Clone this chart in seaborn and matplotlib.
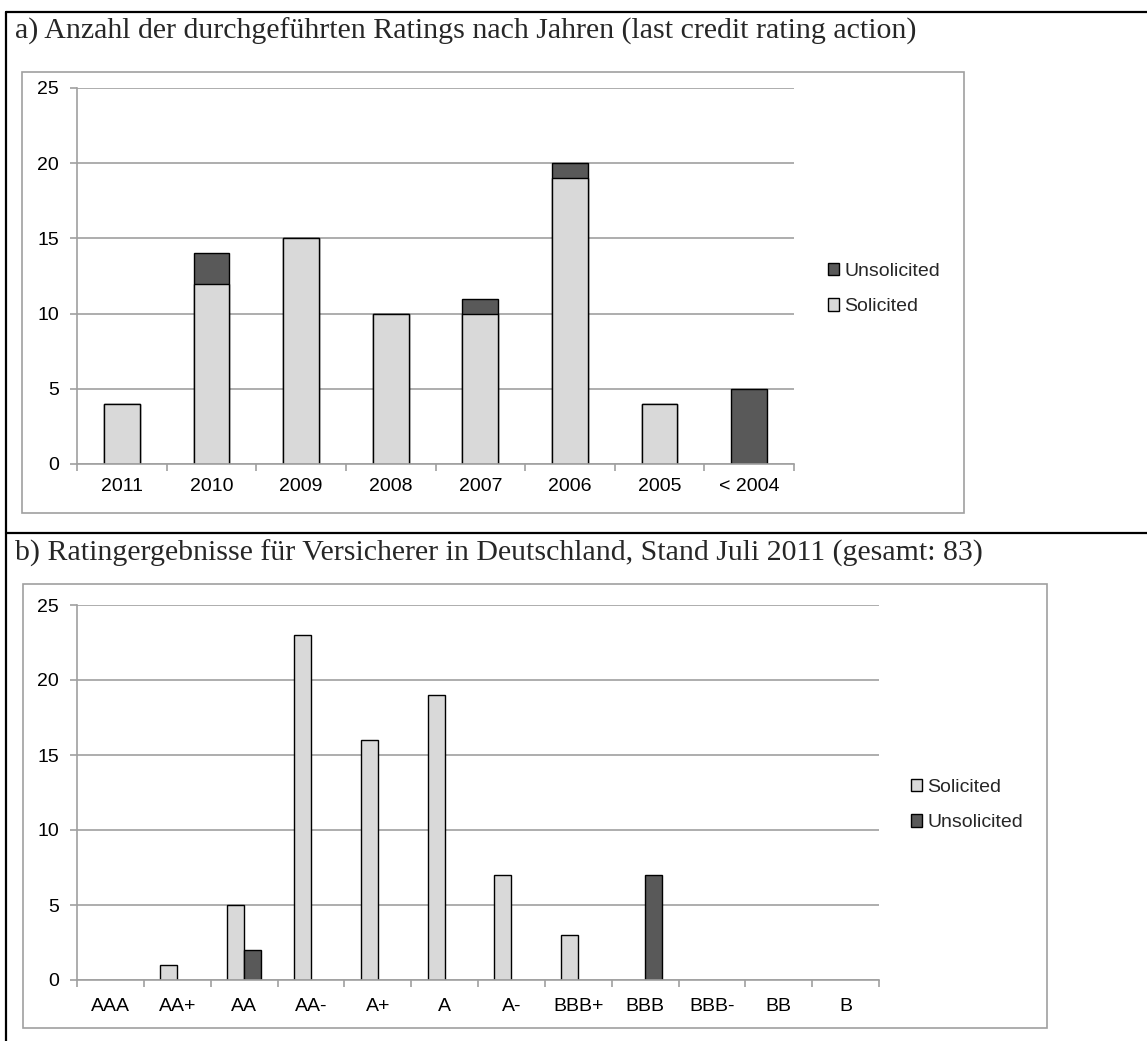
import matplotlib
matplotlib.use("Agg")
import matplotlib.pyplot as plt
import seaborn as sns
import pandas as pd
from matplotlib.patches import Patch, Rectangle
from matplotlib.lines import Line2D

# data
years = ['2011', '2010', '2009', '2008', '2007', '2006', '2005', '< 2004']
solicited_a = [4, 12, 15, 10, 10, 19, 4, 0]
unsolicited_a = [0, 2, 0, 0, 1, 1, 0, 5]

ratings = ['AAA', 'AA+', 'AA', 'AA-', 'A+', 'A', 'A-', 'BBB+', 'BBB', 'BBB-', 'BB', 'B']
solicited_b = [0, 1, 5, 23, 16, 19, 7, 3, 0, 0, 0, 0]
unsolicited_b = [0, 0, 2, 0, 0, 0, 0, 0, 7, 0, 0, 0]

title_a = 'a) Anzahl der durchgeführten Ratings nach Jahren (last credit rating action)'
title_b = 'b) Ratingergebnisse für Versicherer in Deutschland, Stand Juli 2011 (gesamt: 83)'

LIGHT = '#d9d9d9'
DARK = '#595959'
GRID = '#a0a0a0'
FS = 14

sns.set_theme(style='white')
plt.rcParams['font.family'] = ['Liberation Sans', 'DejaVu Sans']

W, H = 1147, 1041
fig = plt.figure(figsize=(W / 100, H / 100), dpi=100)


def fx(px):
    return px / W


def fy(py):
    return 1 - py / H


def make_ax(left, top, right, bottom):
    return fig.add_axes([fx(left), fy(bottom), fx(right) - fx(left), fy(top) - fy(bottom)])


def style_ax(ax, n, xpad):
    ax.set_ylim(0, 25)
    ax.set_xlim(-0.5, n - 0.5)
    ax.set_yticks(range(0, 26, 5))
    ax.yaxis.grid(True, color=GRID, linewidth=1.2)
    ax.xaxis.grid(False)
    ax.set_axisbelow(True)
    for s in ['top', 'right']:
        ax.spines[s].set_visible(False)
    for s in ['left', 'bottom']:
        ax.spines[s].set_color(GRID)
        ax.spines[s].set_linewidth(1.2)
    ax.set_xticks([i - 0.5 for i in range(n + 1)], minor=True)
    ax.tick_params(axis='x', which='minor', length=5, color=GRID, width=1.2, direction='out', bottom=True)
    ax.tick_params(axis='x', which='major', length=0, pad=xpad, labelsize=FS, colors='black')
    ax.tick_params(axis='y', length=5, color=GRID, width=1.2, direction='out', left=True,
                   pad=8, labelsize=FS, labelcolor='black')
    ax.set_xlabel('')
    ax.set_ylabel('')
    for p in ax.patches:
        if p.get_height() == 0:
            p.set_visible(False)


# outer table lines
for (x0, y0, x1, y1) in [(6, 12, 1147, 12), (6, 12, 6, 1041), (6, 533, 1147, 533)]:
    fig.add_artist(Line2D([fx(x0), fx(x1)], [fy(y0), fy(y1)], color='black', linewidth=1.6))

# chart boxes
for (l, t, r, b) in [(22, 72, 964, 513), (23, 584, 1047, 1028)]:
    fig.add_artist(Rectangle((fx(l), fy(b)), fx(r) - fx(l), fy(t) - fy(b), fill=False,
                             edgecolor=GRID, linewidth=1.2, transform=fig.transFigure))

fig.text(fx(15), fy(31), title_a, family='Liberation Serif', fontsize=21.5, va='center', ha='left')
fig.text(fx(15), fy(553), title_b, family='Liberation Serif', fontsize=21.5, va='center', ha='left')

# a) stacked bars
ax_a = make_ax(77, 88, 794, 464)
total_a = [s + u for s, u in zip(solicited_a, unsolicited_a)]
sns.barplot(x=years, y=total_a, color=DARK, edgecolor='black', linewidth=1.0,
            width=0.4, saturation=1, ax=ax_a)
sns.barplot(x=years, y=solicited_a, color=LIGHT, edgecolor='black', linewidth=1.0,
            width=0.4, saturation=1, ax=ax_a)
style_ax(ax_a, len(years), 10)
fig.legend(handles=[Patch(facecolor=DARK, edgecolor='black', label='Unsolicited'),
                    Patch(facecolor=LIGHT, edgecolor='black', label='Solicited')],
           loc='center left', bbox_to_anchor=(fx(820), fy(289)), frameon=False,
           fontsize=FS, handlelength=0.6, handleheight=0.6, handletextpad=0.25,
           labelspacing=0.95, borderaxespad=0)

# b) grouped bars
df_b = pd.DataFrame({
    'rating': ratings * 2,
    'kind': ['Solicited'] * len(ratings) + ['Unsolicited'] * len(ratings),
    'count': solicited_b + unsolicited_b,
})
ax_b = make_ax(77, 605, 879, 980)
sns.barplot(data=df_b, x='rating', y='count', hue='kind', hue_order=['Solicited', 'Unsolicited'],
            palette=[LIGHT, DARK], width=0.51, gap=0, dodge=True, saturation=1,
            edgecolor='black', linewidth=1.0, legend=False, ax=ax_b)
style_ax(ax_b, len(ratings), 13)
fig.legend(handles=[Patch(facecolor=LIGHT, edgecolor='black', label='Solicited'),
                    Patch(facecolor=DARK, edgecolor='black', label='Unsolicited')],
           loc='center left', bbox_to_anchor=(fx(903), fy(805)), frameon=False,
           fontsize=FS, handlelength=0.6, handleheight=0.6, handletextpad=0.25,
           labelspacing=0.95, borderaxespad=0)

fig.savefig('out.png', dpi=100)
